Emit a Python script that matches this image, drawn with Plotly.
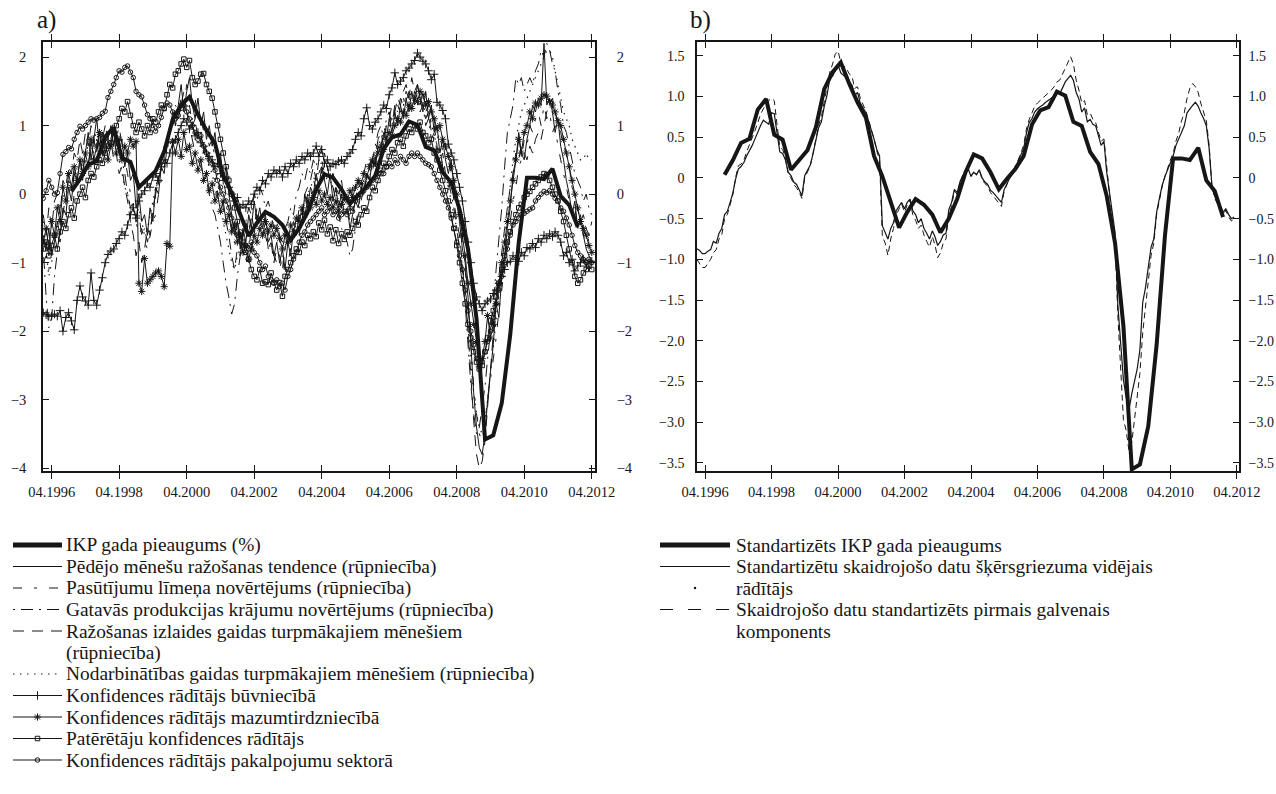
import pandas as pd
import plotly.graph_objects as go

W, H = 1276, 794
INK = "#161616"
FONT = "Liberation Serif, Times New Roman, Times, serif"

# ---------------- data ----------------
# Standardised annual GDP growth, quarterly (plotted at the middle month of each quarter)
gdp = [0.04,
       0.22, 0.43, 0.48, 0.84,
       0.97, 0.53, 0.47, 0.10,
       0.22, 0.34, 0.62, 1.09,
       1.30, 1.42, 1.16, 0.93,
       0.74, 0.27, 0.02, -0.28,
       -0.61, -0.42, -0.26, -0.33,
       -0.45, -0.67, -0.50, -0.26,
       0.07, 0.29, 0.24, 0.07,
       -0.14, -0.01, 0.11, 0.27,
       0.66, 0.83, 0.87, 1.06,
       1.01, 0.69, 0.64, 0.32,
       0.17, -0.22, -0.80, -1.82,
       -3.58, -3.52, -3.05, -2.05,
       -0.70, 0.24, 0.24, 0.22,
       0.37, -0.03, -0.16, -0.48]

# Monthly survey indicators, Jan 1996 - Apr 2012 (standardised)
prod_trend = [
    -0.6, -0.8, -0.5, -0.9, -0.7, -0.4, -0.6, -0.2, -0.3, 0.1, -0.1, 0.3,
    0.2, 0.5, 0.3, 0.6, 0.9, 0.5, 0.8, 1.1, 0.7, 0.9, 0.6, 0.8,
    1.0, 0.7, 0.9, 0.6, 0.8, 0.4, 0.6, 0.2, 0.3, -0.2, 0.0, -0.4,
    -0.3, -0.6, -0.2, -0.4, 0.1, 0.0, 0.4, 0.3, 0.7, 0.9, 1.2, 1.0,
    1.3, 1.6, 1.2, 1.5, 1.7, 1.3, 1.1, 1.4, 1.0, 1.2, 0.8, 1.0,
    0.7, 0.9, 0.5, 0.6, 0.2, 0.4, 0.0, -0.3, -0.6, -0.4, -0.8, -0.5,
    -0.7, -0.3, -0.5, -0.1, -0.4, -0.2, -0.5, -0.3, -0.7, -0.6, -0.9, -0.7,
    -1.0, -0.8, -1.1, -0.7, -0.9, -0.5, -0.6, -0.3, -0.4, 0.0, -0.2, 0.1,
    0.0, 0.3, 0.1, 0.4, 0.2, 0.0, 0.3, -0.1, 0.1, -0.2, 0.0, -0.3,
    -0.2, -0.5, -0.3, -0.1, -0.2, 0.1, 0.0, 0.3, 0.2, 0.5, 0.4, 0.7,
    0.6, 0.9, 0.8, 1.1, 0.9, 1.2, 1.0, 1.3, 1.1, 1.4, 1.2, 1.5,
    1.3, 1.6, 1.4, 1.2, 1.5, 1.1, 1.3, 0.9, 1.0, 0.6, 0.8, 0.5,
    0.3, 0.5, 0.1, -0.1, -0.4, -0.8, -1.0, -1.5, -2.2, -2.9, -3.4, -3.7,
    -3.8, -3.5, -3.0, -2.6, -2.2, -1.6, -1.8, -1.2, -0.9, -0.5, -0.2, 0.3,
    0.5, 0.9, 0.6, 0.5, 0.8, 1.0, 1.3, 1.2, 1.4, 1.3, 2.2, 1.3,
    1.4, 1.2, 0.9, 1.1, 0.7, 0.5, 0.2, 0.0, -0.3, -0.1, -0.5, -0.3,
    -0.6, -0.8, -0.9, -1.0]

order_books = [
    -1.0, -0.9, -1.1, -0.8, -0.9, -0.6, -0.7, -0.4, -0.5, -0.2, -0.3, 0.0,
    0.1, 0.3, 0.2, 0.5, 0.4, 0.7, 0.6, 0.8, 0.7, 0.9, 1.0, 0.8,
    0.9, 1.1, 0.8, 1.0, 0.7, 0.5, 0.3, 0.0, -0.2, -0.4, -0.6, -0.5,
    -0.7, -0.8, -0.6, -0.4, -0.3, 0.0, 0.2, 0.4, 0.6, 0.9, 1.1, 1.0,
    1.2, 1.4, 1.3, 1.6, 1.5, 1.3, 1.4, 1.1, 1.2, 0.9, 1.0, 0.7,
    0.8, 0.5, 0.6, 0.3, 0.2, 0.0, -0.2, -0.5, -0.7, -0.8, -0.6, -0.9,
    -0.6, -0.8, -0.5, -0.6, -0.3, -0.5, -0.4, -0.6, -0.8, -0.7, -0.9, -1.0,
    -1.1, -0.9, -1.2, -1.0, -0.8, -0.7, -0.5, -0.6, -0.3, -0.2, 0.0, -0.1,
    0.2, 0.1, 0.3, 0.5, 0.3, 0.4, 0.2, 0.3, 0.0, 0.1, -0.1, 0.0,
    -0.2, -0.4, -0.3, -0.5, -0.2, 0.0, 0.1, 0.2, 0.4, 0.3, 0.6, 0.8,
    0.7, 0.9, 1.0, 0.9, 1.2, 1.1, 1.3, 1.2, 1.4, 1.3, 1.5, 1.4,
    1.5, 1.4, 1.3, 1.5, 1.2, 1.3, 1.0, 1.1, 0.8, 0.9, 0.6, 0.7,
    0.5, 0.3, 0.2, -0.1, -0.3, -0.7, -1.1, -1.6, -2.3, -2.8, -3.2, -3.5,
    -3.6, -3.3, -3.0, -2.7, -2.4, -2.1, -1.7, -1.4, -1.0, -0.7, -0.4, -0.1,
    0.1, 0.4, 0.5, 0.8, 0.7, 1.0, 0.9, 1.1, 1.2, 1.0, 1.3, 1.1,
    1.2, 0.9, 1.0, 0.7, 0.5, 0.3, 0.1, -0.1, -0.3, -0.2, -0.5, -0.4,
    -0.6, -0.5, -0.7, -0.6]

stocks = [
    -0.8, -1.5, -1.95, -1.8, -1.2, -0.8, -0.5, -0.3, 0.0, 0.2, 0.1, 0.3,
    0.4, 0.3, 0.5, 0.6, 0.4, 0.7, 0.8, 0.6, 0.9, 0.8, 1.0, 0.9,
    0.8, 1.0, 0.7, 0.8, 0.5, 0.3, 0.0, -0.2, -0.1, -0.4, -0.3, -0.6,
    -0.5, -0.7, -0.5, -0.3, 0.0, 0.2, 0.4, 0.6, 0.8, 1.0, 1.1, 1.3,
    1.2, 1.4, 1.3, 1.2, 1.0, 0.8, 0.6, 0.5, 0.4, 0.3, 0.2, 0.0,
    -0.2, -0.3, -0.5, -0.7, -1.0, -1.3, -1.5, -1.75, -1.6, -1.2, -0.9, -0.6,
    -0.4, -0.2, -0.3, 0.0, -0.1, 0.1, 0.0, -0.2, -0.1, -0.3, -0.5, -0.4,
    -0.6, -0.7, -0.5, -0.4, -0.2, -0.3, 0.0, 0.1, 0.3, 0.2, 0.4, 0.3,
    0.5, 0.4, 0.6, 0.7, 0.5, 0.4, 0.2, 0.1, -0.1, -0.3, -0.5, -0.6,
    -0.7, -0.9, -0.8, -0.5, -0.3, -0.1, 0.1, 0.3, 0.2, 0.5, 0.7, 0.9,
    1.0, 0.8, 1.1, 1.2, 1.0, 1.3, 1.2, 1.4, 1.3, 1.5, 1.4, 1.3,
    1.5, 1.4, 1.2, 1.3, 1.0, 1.1, 0.8, 0.9, 0.6, 0.7, 0.4, 0.3,
    0.2, 0.0, -0.2, -0.5, -0.8, -1.2, -1.6, -2.2, -2.8, -3.2, -3.5, -3.4,
    -3.1, -2.8, -2.4, -2.0, -1.6, -1.1, -0.7, -0.2, 0.4, 0.9, 1.1, 1.3,
    1.7, 1.6, 1.7, 1.5, 1.6, 1.7, 1.6, 1.8, 1.9, 2.1, 2.0, 2.2,
    2.1, 1.9, 1.8, 1.5, 1.3, 1.0, 0.9, 0.7, 0.5, 0.3, 0.2, 0.1,
    -0.1, 0.0, -0.2, -0.3]

output_exp = [
    -0.3, -0.6, -0.2, -0.5, -0.1, 0.0, -0.3, 0.2, 0.1, 0.4, 0.3, 0.6,
    0.5, 0.8, 0.6, 0.9, 0.7, 1.0, 0.8, 0.6, 0.9, 0.7, 0.5, 0.6,
    0.8, 0.5, 0.6, 0.3, 0.4, 0.1, -0.1, -0.4, -0.6, -0.9, -0.7, -1.0,
    -0.8, -0.5, -0.6, -0.2, 0.0, 0.3, 0.5, 0.7, 0.6, 0.9, 1.0, 1.2,
    1.1, 1.3, 1.5, 1.2, 1.3, 1.0, 1.1, 0.8, 0.9, 0.6, 0.7, 0.4,
    0.5, 0.2, 0.3, 0.0, -0.2, -0.4, -0.6, -0.9, -1.1, -0.8, -0.9, -0.6,
    -0.4, -0.6, -0.3, -0.5, -0.2, -0.4, -0.6, -0.5, -0.8, -0.7, -1.0, -0.8,
    -0.9, -1.1, -0.8, -0.6, -0.7, -0.4, -0.5, -0.2, -0.3, 0.0, 0.1, 0.2,
    0.4, 0.2, 0.5, 0.3, 0.6, 0.4, 0.2, 0.3, 0.1, 0.0, 0.2, -0.1,
    0.0, -0.2, 0.1, -0.1, 0.2, 0.0, 0.3, 0.5, 0.4, 0.6, 0.5, 0.8,
    0.9, 0.7, 1.0, 1.1, 1.3, 1.2, 1.4, 1.3, 1.5, 1.6, 1.4, 1.7,
    1.5, 1.6, 1.4, 1.3, 1.1, 1.2, 0.9, 1.0, 0.7, 0.5, 0.6, 0.3,
    0.1, 0.2, -0.1, -0.4, -0.6, -1.0, -1.4, -2.0, -2.7, -3.3, -3.8, -4.0,
    -3.9, -3.6, -3.1, -2.6, -2.0, -1.5, -1.2, -0.8, -0.5, -0.2, 0.1, 0.3,
    0.6, 0.5, 0.7, 0.6, 0.5, 0.7, 0.6, 0.8, 0.9, 0.8, 1.0, 1.2,
    1.3, 1.4, 1.2, 1.0, 0.9, 0.7, 0.6, 0.4, 0.1, 0.0, -0.2, -0.4,
    -0.3, -0.5, -0.6, -0.4]

employment_exp = [
    -0.4, -0.8, -1.2, -1.0, -0.7, -0.5, -0.2, 0.0, -0.1, 0.2, 0.1, 0.3,
    0.3, 0.5, 0.4, 0.6, 0.7, 0.6, 0.8, 0.9, 0.7, 0.8, 0.9, 0.8,
    0.7, 0.8, 0.6, 0.5, 0.3, 0.1, 0.0, -0.2, -0.3, -0.3, -0.2, -0.4,
    -0.6, -0.5, -0.3, -0.1, 0.1, 0.3, 0.4, 0.6, 0.7, 0.9, 1.0, 1.1,
    1.2, 1.3, 1.4, 1.3, 1.2, 1.1, 1.0, 0.9, 0.8, 0.6, 0.5, 0.4,
    0.3, 0.1, 0.0, -0.2, -0.4, -0.6, -0.8, -1.0, -1.1, -0.9, -0.8, -0.7,
    -0.6, -0.5, -0.4, -0.3, -0.3, -0.4, -0.5, -0.6, -0.7, -0.8, -0.9, -1.0,
    -1.0, -0.9, -0.8, -0.7, -0.6, -0.5, -0.4, -0.3, -0.2, -0.1, 0.0, 0.1,
    0.2, 0.3, 0.3, 0.4, 0.3, 0.2, 0.2, 0.1, 0.0, -0.1, -0.2, -0.2,
    -0.3, -0.3, -0.2, -0.1, 0.0, 0.1, 0.2, 0.3, 0.4, 0.5, 0.6, 0.7,
    0.8, 0.9, 1.0, 1.0, 1.1, 1.2, 1.2, 1.3, 1.3, 1.4, 1.4, 1.5,
    1.5, 1.4, 1.4, 1.3, 1.2, 1.1, 1.0, 0.9, 0.7, 0.6, 0.4, 0.3,
    0.1, -0.1, -0.3, -0.5, -0.8, -1.1, -1.5, -2.0, -2.5, -2.9, -3.2, -3.4,
    -3.5, -3.3, -3.0, -2.6, -2.2, -1.8, -1.4, -1.0, -0.6, -0.2, 0.2, 0.5,
    0.8, 1.0, 1.2, 1.3, 1.4, 1.5, 1.6, 1.7, 1.8, 1.9, 2.0, 2.1,
    2.1, 2.0, 1.8, 1.6, 1.4, 1.2, 1.1, 1.0, 0.8, 0.7, 0.6, 0.5,
    0.5, 0.6, 0.5, 0.5]

construction = [
    -1.73, -1.76, -1.78, -1.78, -1.75, -1.78, -1.70, -2.00, -1.80, -1.73, -1.85, -1.98,
    -1.55, -1.34, -1.50, -1.56, -1.62, -1.15, -1.55, -1.62, -1.40, -1.22, -1.00, -0.88,
    -0.83, -0.80, -0.72, -0.65, -0.55, -0.60, -0.45, -0.30, -0.20, -0.35, -0.10, 0.00,
    0.05, 0.15, 0.10, 0.25, 0.30, 0.20, 0.40, 0.50, 0.45, 0.60, 0.75, 0.80,
    0.90, 1.00, 1.10, 1.05, 0.95, 1.00, 0.85, 0.90, 0.75, 0.70, 0.60, 0.55,
    0.50, 0.40, 0.45, 0.30, 0.20, 0.25, 0.10, 0.00, -0.10, -0.05, -0.20, -0.15,
    -0.20, -0.10, -0.15, 0.00, 0.10, 0.05, 0.20, 0.15, 0.30, 0.25, 0.35, 0.30,
    0.35, 0.25, 0.40, 0.30, 0.45, 0.40, 0.50, 0.45, 0.55, 0.50, 0.60, 0.55,
    0.60, 0.70, 0.55, 0.65, 0.45, 0.50, 0.40, 0.45, 0.43, 0.48, 0.50, 0.45,
    0.55, 0.60, 0.65, 0.80, 0.90, 0.85, 1.10, 1.26, 1.00, 0.95, 1.05, 1.10,
    1.20, 1.30, 1.25, 1.45, 1.55, 1.77, 1.60, 1.65, 1.70, 1.80, 1.84, 1.90,
    1.95, 2.06, 2.00, 1.94, 1.90, 1.80, 1.67, 1.75, 1.34, 1.30, 1.22, 1.10,
    0.73, 0.60, 0.50, 0.30, 0.10, -0.10, -0.40, -0.70, -1.00, -1.30, -1.50, -1.60,
    -1.70, -1.60, -1.56, -1.53, -1.45, -1.40, -1.30, -1.20, -1.10, -1.00, -0.98, -0.90,
    -0.95, -0.98, -0.85, -0.90, -0.78, -0.80, -0.72, -0.78, -0.65, -0.70, -0.60, -0.65,
    -0.58, -0.62, -0.55, -0.60, -0.70, -0.90, -0.85, -1.00, -0.95, -1.12, -1.05, -1.00,
    -0.95, -1.05, -1.00, -0.98]

retail = [
    -0.70, -0.50, -0.80, -0.40, -0.60, -0.20, -0.40, 0.10, -0.10, 0.30, 0.10, 0.40,
    0.20, 0.50, 0.30, 0.60, 0.40, 0.80, 0.50, 0.70, 0.90, 0.60, 0.80, 0.50,
    0.70, 0.90, 0.60, 0.80, 0.50, 0.70, 0.60, 0.80, 0.70, 0.77, -1.30, -1.42,
    -0.94, -1.30, -1.25, -1.20, -1.15, -1.12, -1.20, -1.35, -0.72, -0.76, 0.77, 0.60,
    0.80, 0.55, 0.90, 0.65, 0.70, 0.45, 0.60, 0.35, 0.50, 0.20, 0.30, 0.05,
    0.15, -0.10, 0.00, -0.25, -0.10, -0.40, -0.30, -0.55, -0.45, -0.70, -0.60, -0.85,
    -0.75, -0.95, -0.80, -0.60, -0.70, -0.50, -0.60, -0.40, -0.55, -0.45, -0.60, -0.50,
    -0.65, -0.80, -0.60, -0.70, -0.45, -0.55, -0.35, -0.40, -0.20, -0.30, -0.10, -0.20,
    -0.05, -0.15, 0.05, -0.10, 0.00, -0.15, -0.05, -0.20, -0.10, -0.25, -0.15, -0.05,
    -0.10, 0.05, -0.05, 0.10, 0.20, 0.15, 0.30, 0.25, 0.40, 0.50, 0.45, 0.60,
    0.70, 0.65, 0.80, 0.90, 0.85, 1.00, 1.10, 1.05, 1.20, 1.15, 1.30, 1.25,
    1.40, 1.35, 1.50, 1.45, 1.30, 1.35, 1.20, 1.10, 0.95, 1.00, 0.80, 0.70,
    0.55, 0.40, 0.20, 0.00, -0.30, -0.60, -0.90, -1.30, -1.60, -1.90, -2.15, -2.52,
    -2.40, -2.15, -1.77, -2.10, -1.90, -1.60, -1.30, -1.00, -0.70, -0.40, -0.10, 0.20,
    0.50, 0.80, 0.60, 0.90, 1.00, 1.20, 1.10, 1.33, 1.30, 1.40, 1.45, 1.43,
    1.35, 1.30, 1.20, 1.07, 1.00, 0.80, 0.60, 0.40, 0.20, 0.00, -0.20, -0.40,
    -0.50, -0.60, -0.75, -0.85]

consumer = [
    -0.80, -0.70, -0.90, -0.75, -0.60, -0.80, -0.55, -0.40, -0.50, -0.30, -0.20, -0.35,
    -0.10, 0.00, 0.10, -0.05, 0.20, 0.30, 0.25, 0.40, 0.50, 0.45, 0.60, 0.70,
    0.75, 0.90, 1.00, 1.10, 1.25, 1.20, 1.35, 1.15, 1.00, 0.90, 1.05, 0.95,
    0.85, 1.00, 0.90, 1.10, 1.05, 1.20, 1.30, 1.25, 1.45, 1.60, 1.55, 1.75,
    1.80, 1.90, 1.97, 1.85, 1.95, 1.70, 1.60, 1.65, 1.75, 1.76, 1.60, 1.50,
    1.40, 1.20, 1.00, 0.80, 0.60, 0.40, 0.20, 0.00, -0.20, -0.40, -0.60, -0.75,
    -0.85, -0.95, -1.10, -1.20, -1.25, -1.10, -1.30, -1.28, -1.32, -1.15, -1.29, -1.40,
    -1.29, -1.49, -1.20, -1.10, -1.00, -0.90, -0.80, -0.85, -0.70, -0.75, -0.60, -0.65,
    -0.55, -0.62, -0.42, -0.52, -0.38, -0.58, -0.48, -0.68, -0.52, -0.72, -0.58, -0.66,
    -0.55, -0.60, -0.50, -0.40, -0.45, -0.30, -0.20, -0.25, -0.05, 0.10, 0.05, 0.20,
    0.30, 0.45, 0.40, 0.55, 0.65, 0.60, 0.75, 0.80, 0.70, 0.85, 0.95, 0.90,
    1.00, 0.95, 1.05, 0.90, 0.85, 0.75, 0.80, 0.60, 0.50, 0.35, 0.20, 0.05,
    -0.10, -0.30, -0.50, -0.75, -1.00, -1.30, -1.60, -1.90, -2.10, -2.30, -2.45, -2.55,
    -2.50, -2.30, -2.10, -1.85, -1.70, -1.50, -1.30, -1.10, -0.90, -0.70, -0.55, -0.40,
    -0.30, -0.20, -0.15, -0.05, 0.00, 0.04, 0.10, 0.15, 0.20, 0.25, 0.30, 0.28,
    0.20, 0.10, 0.00, -0.10, -0.25, -0.40, -0.60, -0.80, -1.00, -1.20, -1.30, -1.25,
    -1.15, -1.10, -1.05, -1.10]

services = [
    -0.06, 0.05, 0.20, 0.10, 0.00, 0.02, 0.30, 0.58, 0.62, 0.68, 0.66, 0.80,
    0.90, 0.99, 0.95, 1.00, 1.05, 1.10, 1.08, 1.10, 1.12, 1.18, 1.21, 1.41,
    1.50, 1.60, 1.70, 1.80, 1.78, 1.85, 1.87, 1.78, 1.70, 1.50, 1.45, 1.42,
    1.30, 1.16, 1.10, 1.00, 0.92, 1.00, 1.12, 1.25, 1.33, 1.30, 1.20, 1.10,
    1.15, 1.25, 1.30, 1.20, 1.10, 1.00, 0.90, 0.80, 0.85, 0.70, 0.60, 0.50,
    0.45, 0.35, 0.20, 0.10, 0.00, -0.10, -0.20, -0.35, -0.50, -0.60, -0.55, -0.70,
    -0.75, -0.80, -0.70, -0.85, -0.90, -1.00, -1.10, -1.05, -1.20, -1.25, -1.30, -1.25,
    -1.35, -1.30, -1.40, -1.20, -1.10, -0.95, -0.85, -0.70, -0.60, -0.55, -0.45, -0.40,
    -0.35, -0.30, -0.25, -0.20, -0.30, -0.25, -0.20, -0.30, -0.25, -0.35, -0.30, -0.25,
    -0.30, -0.20, -0.25, -0.10, -0.05, 0.00, 0.05, 0.10, 0.15, 0.20, 0.25, 0.30,
    0.35, 0.30, 0.40, 0.45, 0.40, 0.50, 0.45, 0.55, 0.50, 0.45, 0.55, 0.60,
    0.55, 0.60, 0.55, 0.50, 0.45, 0.43, 0.40, 0.30, 0.20, 0.10, 0.00, -0.10,
    -0.20, -0.35, -0.50, -0.70, -0.90, -1.10, -1.40, -1.70, -2.00, -2.20, -2.40, -2.50,
    -2.45, -2.30, -2.15, -2.00, -1.80, -1.60, -1.40, -1.20, -1.00, -0.80, -0.60, -0.45,
    -0.40, -0.35, -0.30, -0.28, -0.25, -0.22, -0.20, -0.10, -0.05, 0.00, 0.04, 0.02,
    0.05, 0.00, -0.06, -0.10, -0.20, -0.25, -0.35, -0.45, -0.60, -0.75, -0.85, -0.90,
    -0.95, -1.00, -0.95, -1.00]

# Panel b: cross-section mean of the standardised indicators and their first
# principal component, Jan 1996 - Mar 2012
cs_mean = [
    -0.87, -0.89, -0.93, -0.93, -0.90, -0.88, -0.78, -0.80, -0.68, -0.62, -0.45, -0.41,
    -0.30, -0.18, -0.02, 0.11, 0.14, 0.19, 0.27, 0.33, 0.40, 0.48, 0.57, 0.64,
    0.71, 0.68, 0.66, 0.80, 0.79, 0.55, 0.32, 0.30, 0.22, 0.07, 0.03, -0.05,
    -0.08, -0.15, -0.22, 0.03, 0.10, 0.16, 0.30, 0.48, 0.62, 0.69, 0.88, 1.01,
    1.22, 1.25, 1.32, 1.39, 1.29, 1.26, 1.23, 1.18, 1.14, 1.01, 1.05, 0.92,
    0.85, 0.80, 0.70, 0.60, 0.48, 0.35, 0.27, -0.59, -0.67, -0.75, -0.62, -0.55,
    -0.40, -0.35, -0.30, -0.38, -0.30, -0.26, -0.40, -0.45, -0.55, -0.50, -0.62, -0.68,
    -0.75, -0.65, -0.72, -0.83, -0.78, -0.70, -0.68, -0.39, -0.30, -0.14, -0.18, -0.05,
    0.03, 0.06, 0.11, 0.02, 0.07, 0.04, 0.10, 0.00, -0.05, -0.08, -0.15, -0.18,
    -0.22, -0.26, -0.30, -0.14, -0.06, 0.00, 0.05, 0.13, 0.20, 0.28, 0.36, 0.55,
    0.68, 0.73, 0.81, 0.85, 0.87, 0.90, 0.93, 0.95, 0.98, 1.01, 1.05, 1.03,
    1.10, 1.18, 1.22, 1.26, 1.20, 1.05, 0.97, 0.81, 0.86, 0.69, 0.72, 0.66,
    0.64, 0.50, 0.40, 0.45, 0.07, -0.18, -0.45, -0.67, -1.57, -2.00, -2.48, -2.70,
    -2.85, -2.65, -2.51, -2.35, -2.11, -1.53, -1.35, -1.12, -0.85, -0.75, -0.42, -0.25,
    -0.09, 0.02, 0.10, 0.20, 0.27, 0.40, 0.48, 0.58, 0.64, 0.80, 0.85, 0.89,
    0.93, 0.88, 0.80, 0.73, 0.64, 0.36, -0.09, -0.22, -0.30, -0.35, -0.42, -0.38,
    -0.45, -0.50, -0.48]

pc1 = [
    -1.00, -1.05, -1.10, -1.10, -1.05, -1.00, -0.92, -0.88, -0.75, -0.70, -0.50, -0.45,
    -0.33, -0.20, 0.00, 0.15, 0.17, 0.22, 0.32, 0.40, 0.50, 0.58, 0.68, 0.78,
    0.85, 0.90, 0.95, 0.98, 0.95, 0.65, 0.38, 0.35, 0.25, 0.05, 0.00, -0.08,
    -0.12, -0.18, -0.25, 0.00, 0.08, 0.15, 0.30, 0.50, 0.65, 0.75, 0.95, 1.10,
    1.30, 1.40, 1.52, 1.56, 1.42, 1.38, 1.35, 1.28, 1.25, 1.10, 1.12, 0.98,
    0.90, 0.82, 0.72, 0.60, 0.48, 0.33, 0.22, -0.72, -0.80, -0.95, -0.75, -0.62,
    -0.45, -0.38, -0.32, -0.42, -0.33, -0.28, -0.45, -0.52, -0.62, -0.58, -0.70, -0.78,
    -0.85, -0.72, -0.82, -0.98, -0.92, -0.80, -0.75, -0.45, -0.35, -0.16, -0.20, -0.06,
    0.03, 0.06, 0.12, 0.02, 0.08, 0.04, 0.10, -0.02, -0.07, -0.10, -0.18, -0.22,
    -0.26, -0.30, -0.35, -0.16, -0.07, 0.00, 0.05, 0.15, 0.22, 0.30, 0.40, 0.60,
    0.72, 0.80, 0.88, 0.92, 0.95, 0.98, 1.02, 1.05, 1.08, 1.12, 1.18, 1.20,
    1.28, 1.35, 1.42, 1.49, 1.40, 1.20, 1.08, 0.92, 0.95, 0.78, 0.80, 0.72,
    0.68, 0.55, 0.45, 0.48, 0.10, -0.20, -0.50, -0.75, -1.70, -2.30, -2.97, -3.10,
    -3.35, -3.25, -3.00, -2.70, -2.40, -1.90, -1.60, -1.25, -0.95, -0.80, -0.45, -0.28,
    -0.10, 0.02, 0.12, 0.22, 0.30, 0.45, 0.55, 0.70, 0.80, 0.98, 1.10, 1.16,
    1.12, 1.05, 0.92, 0.80, 0.70, 0.40, -0.10, -0.25, -0.32, -0.38, -0.45, -0.40,
    -0.48, -0.53, -0.50]

tick_years = [1996, 1998, 2000, 2002, 2004, 2006, 2008, 2010, 2012]
ticks_a = [2, 1, 0, -1, -2, -3, -4]
ticks_b = [1.5, 1.0, 0.5, 0, -0.5, -1.0, -1.5, -2.0, -2.5, -3.0, -3.5]

legend_a = [
    "IKP gada pieaugums (%)",
    "Pēdējo mēnešu ražošanas tendence (rūpniecība)",
    "Pasūtījumu līmeņa novērtējums (rūpniecība)",
    "Gatavās produkcijas krājumu novērtējums (rūpniecība)",
    "Ražošanas izlaides gaidas turpmākajiem mēnešiem",
    "(rūpniecība)",
    "Nodarbinātības gaidas turpmākajiem mēnešiem (rūpniecība)",
    "Konfidences rādītājs būvniecībā",
    "Konfidences rādītājs mazumtirdzniecībā",
    "Patērētāju konfidences rādītājs",
    "Konfidences rādītājs pakalpojumu sektorā",
]
legend_b = [
    "Standartizēts IKP gada pieaugums",
    "Standartizētu skaidrojošo datu šķērsgriezuma vidējais",
    "rādītājs",
    "Skaidrojošo datu standartizēts pirmais galvenais",
    "komponents",
]

# ---------------- styling ----------------
months_a = pd.date_range("1996-01-01", periods=len(prod_trend), freq="MS")
months_b = pd.date_range("1996-01-01", periods=len(cs_mean), freq="MS")
gdp_dates = pd.date_range("1996-11-01", periods=len(gdp), freq="3MS")

DASH_ORDERS = "9px,12px,3px,12px"
DASH_STOCKS = "2px,6px,12px,6px"
DASH_LONG = "11px,8px"
DASH_DOT = "1.5px,5.5px"
DASH_PC = "13px,15px"

line_series = [
    (prod_trend, "solid", 1.0),
    (order_books, DASH_ORDERS, 1.0),
    (stocks, DASH_STOCKS, 1.0),
    (output_exp, DASH_LONG, 1.0),
    (employment_exp, DASH_DOT, 1.2),
]
marker_series = [
    (construction, "cross-thin", 6),
    (retail, "asterisk", 6),
    (consumer, "square-open", 4.5),
    (services, "circle-open", 4.5),
]

fig = go.Figure()

# panel a
for vals, dash, w in line_series:
    fig.add_trace(go.Scatter(x=months_a, y=vals, mode="lines",
                             line=dict(color=INK, width=w, dash=dash),
                             xaxis="x", yaxis="y", showlegend=False, hoverinfo="skip"))
for vals, sym, sz in marker_series:
    fig.add_trace(go.Scatter(x=months_a, y=vals, mode="lines+markers",
                             line=dict(color=INK, width=1.0),
                             marker=dict(symbol=sym, size=sz, color=INK,
                                         line=dict(color=INK, width=1)),
                             xaxis="x", yaxis="y", showlegend=False, hoverinfo="skip"))
fig.add_trace(go.Scatter(x=gdp_dates, y=gdp, mode="lines",
                         line=dict(color=INK, width=4), xaxis="x", yaxis="y",
                         showlegend=False, hoverinfo="skip"))
fig.add_trace(go.Scatter(x=[], y=[], xaxis="x", yaxis="y2", showlegend=False))

# panel b
fig.add_trace(go.Scatter(x=months_b, y=pc1, mode="lines",
                         line=dict(color=INK, width=1.0, dash="6px,4px"),
                         xaxis="x3", yaxis="y3", showlegend=False, hoverinfo="skip"))
fig.add_trace(go.Scatter(x=months_b, y=cs_mean, mode="lines",
                         line=dict(color=INK, width=1.2),
                         xaxis="x3", yaxis="y3", showlegend=False, hoverinfo="skip"))
fig.add_trace(go.Scatter(x=gdp_dates, y=gdp, mode="lines",
                         line=dict(color=INK, width=4), xaxis="x3", yaxis="y3",
                         showlegend=False, hoverinfo="skip"))
fig.add_trace(go.Scatter(x=[], y=[], xaxis="x3", yaxis="y4", showlegend=False))

# ---------------- legends (drawn on a pixel-space overlay axis) ----------------
ROW0, ROW_STEP = 545, 21.5
LEG_SIZE = 19.4
rows_a = [ROW0 + ROW_STEP * i for i in range(len(legend_a))]
rows_b = [ROW0 + ROW_STEP * i for i in range(len(legend_b))]
SA0, SA1, TXT_A = 13, 62, 65
SB0, SB1, TXT_B = 660, 730, 735

sample_styles_a = [
    dict(line=dict(color=INK, width=5)),
    dict(line=dict(color=INK, width=1.0)),
    dict(line=dict(color=INK, width=1.0, dash=DASH_ORDERS)),
    dict(line=dict(color=INK, width=1.0, dash=DASH_STOCKS)),
    dict(line=dict(color=INK, width=1.0, dash=DASH_LONG)),
    None,
    dict(line=dict(color=INK, width=1.0, dash=DASH_DOT)),
    dict(line=dict(color=INK, width=1.0), marker=marker_series[0]),
    dict(line=dict(color=INK, width=1.0), marker=marker_series[1]),
    dict(line=dict(color=INK, width=1.0), marker=marker_series[2]),
    dict(line=dict(color=INK, width=1.0), marker=marker_series[3]),
]
for y, st in zip(rows_a, sample_styles_a):
    if st is None:
        continue
    fig.add_trace(go.Scatter(x=[SA0, SA1], y=[y, y], mode="lines", line=st["line"],
                             xaxis="x5", yaxis="y5", showlegend=False, hoverinfo="skip"))
    if "marker" in st:
        _, sym, sz = st["marker"]
        fig.add_trace(go.Scatter(x=[(SA0 + SA1) / 2], y=[y], mode="markers",
                                 marker=dict(symbol=sym, size=sz, color=INK,
                                             line=dict(color=INK, width=1)),
                                 xaxis="x5", yaxis="y5", showlegend=False, hoverinfo="skip"))

sample_styles_b = [
    dict(color=INK, width=5),
    dict(color=INK, width=1.0),
    None,
    dict(color=INK, width=1.0, dash=DASH_PC),
    None,
]
for y, st in zip(rows_b, sample_styles_b):
    if st is None:
        continue
    fig.add_trace(go.Scatter(x=[SB0, SB1], y=[y, y], mode="lines", line=st,
                             xaxis="x5", yaxis="y5", showlegend=False, hoverinfo="skip"))
fig.add_trace(go.Scatter(x=[(SB0 + SB1) / 2], y=[rows_b[2]], mode="markers",
                         marker=dict(symbol="circle", size=2.5, color=INK),
                         xaxis="x5", yaxis="y5", showlegend=False, hoverinfo="skip"))

annotations = []
for y, t in zip(rows_a, legend_a):
    annotations.append(dict(x=TXT_A, y=y, xref="x5", yref="y5", text=t, showarrow=False,
                            xanchor="left", yanchor="middle", borderpad=0,
                            font=dict(family=FONT, size=LEG_SIZE, color=INK)))
for y, t in zip(rows_b, legend_b):
    annotations.append(dict(x=TXT_B, y=y, xref="x5", yref="y5", text=t, showarrow=False,
                            xanchor="left", yanchor="middle", borderpad=0,
                            font=dict(family=FONT, size=LEG_SIZE, color=INK)))
for x, t in [(35, "a)"), (688, "b)")]:
    annotations.append(dict(x=x, y=20, xref="x5", yref="y5", text=t, showarrow=False,
                            xanchor="left", yanchor="middle",
                            font=dict(family=FONT, size=25, color=INK)))

# ---------------- axes ----------------
def px(x):
    return x / W


def py(y):
    return 1 - y / H


tickvals_x = [f"{y}-04-01" for y in tick_years]
ticktext_x = [f"04.{y}" for y in tick_years]


def fmt(v):
    if v == 0:
        s = "0"
    elif isinstance(v, int):
        s = str(v)
    else:
        s = f"{v:.1f}"
    return s.replace("-", "\u2212")


common_x = dict(type="date", tickmode="array", tickvals=tickvals_x, ticktext=ticktext_x,
                ticks="inside", ticklen=6, tickwidth=1.3, tickcolor=INK,
                showline=True, linecolor=INK, linewidth=1.6, mirror="allticks",
                showgrid=False, zeroline=False, automargin=False,
                tickfont=dict(family=FONT, size=14.5, color=INK), ticklabelstandoff=7)
common_y = dict(tickmode="array", ticks="inside", ticklen=6, tickwidth=1.3, tickcolor=INK,
                showline=True, linecolor=INK, linewidth=1.6, showgrid=False, zeroline=False,
                automargin=False)
font_a = dict(family=FONT, size=14.5, color=INK)
font_b = dict(family=FONT, size=14, color=INK)

dom_xa = [px(43), px(595)]
dom_xb = [px(697), px(1239)]
dom_y = [py(471), py(42)]
range_a = [-4.04, 2.22]
range_b = [-3.60, 1.67]

fig.update_layout(
    width=W, height=H, margin=dict(l=0, r=0, t=0, b=0, autoexpand=False),
    paper_bgcolor="white", plot_bgcolor="rgba(0,0,0,0)",
    showlegend=False, annotations=annotations,
    xaxis=dict(domain=dom_xa, range=["1995-12-29", "2012-05-06"], anchor="y", **common_x),
    yaxis=dict(domain=dom_y, range=range_a, anchor="x", side="left",
               tickvals=ticks_a, ticktext=[fmt(v) for v in ticks_a], tickfont=font_a,
               ticklabelstandoff=12, mirror=True, **common_y),
    yaxis2=dict(range=range_a, overlaying="y", anchor="x", side="right",
                tickvals=ticks_a, ticktext=[fmt(v) for v in ticks_a], tickfont=font_a,
                ticklabelstandoff=17, **common_y),
    xaxis3=dict(domain=dom_xb, range=["1996-01-03", "2012-04-24"], anchor="y3", **common_x),
    yaxis3=dict(domain=dom_y, range=range_b, anchor="x3", side="left",
                tickvals=ticks_b, ticktext=[fmt(v) for v in ticks_b], tickfont=font_b,
                ticklabelstandoff=8, mirror=True, **common_y),
    yaxis4=dict(range=range_b, overlaying="y3", anchor="x3", side="right",
                tickvals=ticks_b, ticktext=[fmt(v) for v in ticks_b], tickfont=font_b,
                ticklabelstandoff=5, **common_y),
    xaxis5=dict(domain=[0, 1], range=[0, W], visible=False, anchor="y5",
                fixedrange=True, automargin=False),
    yaxis5=dict(domain=[0, 1], range=[H, 0], visible=False, anchor="x5",
                fixedrange=True, automargin=False),
)

fig.write_html("out.html")
